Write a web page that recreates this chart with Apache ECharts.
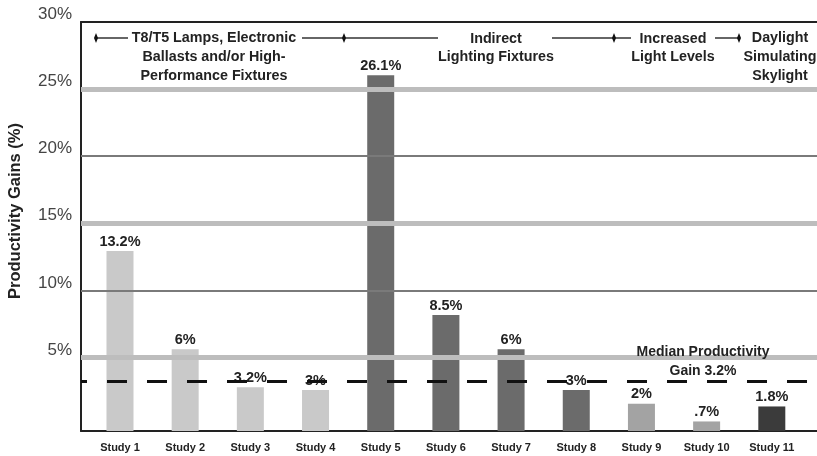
<!DOCTYPE html>
<html>
<head>
<meta charset="utf-8">
<script src="https://cdn.jsdelivr.net/npm/echarts@6.0.0/dist/echarts.min.js"></script>
<style>
  html, body { margin: 0; padding: 0; background: #fff; }
  #chart { width: 817px; height: 456px; }
</style>
</head>
<body>
<div id="chart"></div>
<script>
const studies = ['Study 1', 'Study 2', 'Study 3', 'Study 4', 'Study 5', 'Study 6',
  'Study 7', 'Study 8', 'Study 9', 'Study 10', 'Study 11'];
const gains = [13.2, 6, 3.2, 3, 26.1, 8.5, 6, 3, 2, 0.7, 1.8];
const studyGroup = [0, 0, 0, 0, 1, 1, 1, 1, 2, 2, 3];
const groupNames = [
  'T8/T5 Lamps, Electronic\nBallasts and/or High-\nPerformance Fixtures',
  'Indirect\nLighting Fixtures',
  'Increased\nLight Levels',
  'Daylight\nSimulating\nSkylight'
];
const yTicks = [5, 10, 15, 20, 25, 30];
const medianGain = 3.2;

const groupColors = ['#c9c9c9', '#6b6b6b', '#a3a3a3', '#3b3b3b'];
const boldFont = { fontFamily: 'Liberation Sans', fontWeight: 'bold', fill: '#222' };
const frameLine = { show: true, onZero: false, lineStyle: { color: '#222', width: 2 } };

const chart = echarts.init(document.getElementById('chart'));

// gridlines: 5/15/25 are the wide light ones, 10/20 thin dark ones
const gridLines = yTicks.filter(v => v < 30).map(v => ({
  yAxis: v,
  lineStyle: v % 10 === 5
    ? { color: '#bdbdbd', width: 5, type: 'solid' }
    : { color: '#7a7a7a', width: 2, type: 'solid' }
}));

// group captions along the top, with the little bracket lines
const captions = [
  { x: 214, y: 57, text: groupNames[0] },
  { x: 496, y: 48, text: groupNames[1] },
  { x: 673, y: 48, text: groupNames[2] },
  { x: 780, y: 57, text: groupNames[3] }
];
const brackets = [[96, 128], [302, 438], [552, 631], [715, 740]];
const ticksAt = [96, 344, 614, 739];

const graphics = [];
captions.forEach(c => graphics.push({
  type: 'text', x: c.x, y: c.y, z: 10,
  style: Object.assign({ text: c.text, fontSize: 14.3, lineHeight: 18.7,
    textAlign: 'center', textVerticalAlign: 'middle' }, boldFont)
}));
brackets.forEach(b => graphics.push({
  type: 'line', z: 10,
  shape: { x1: b[0], y1: 38, x2: b[1], y2: 38 },
  style: { stroke: '#333', lineWidth: 1.5 }
}));
ticksAt.forEach(x => graphics.push({
  type: 'polygon', z: 10,
  shape: { points: [[x, 33], [x + 2, 38], [x, 43], [x - 2, 38]] },
  style: { fill: '#111' }
}));
graphics.push({
  type: 'text', x: 703, y: 362, z: 10,
  style: Object.assign({ text: 'Median Productivity\nGain ' + medianGain + '%',
    fontSize: 14, lineHeight: 19, textAlign: 'center', textVerticalAlign: 'middle' }, boldFont)
});
graphics.push({
  type: 'text', x: 15, y: 211, rotation: Math.PI / 2, z: 10,
  style: Object.assign({ text: 'Productivity Gains (%)', fontSize: 16.5,
    textAlign: 'center', textVerticalAlign: 'middle' }, boldFont)
});

const option = {
  animation: false,
  backgroundColor: '#fff',
  grid: [
    { left: 81, right: 0, top: 22, bottom: 25 },
    { left: 87.4, right: 12.6, top: 22, bottom: 25 }
  ],
  xAxis: [
    // bottom and top frame lines
    { gridIndex: 0, type: 'value', min: 0, max: 1, position: 'bottom',
      axisLine: frameLine, axisTick: { show: false }, axisLabel: { show: false },
      splitLine: { show: false } },
    { gridIndex: 0, type: 'value', min: 0, max: 1, position: 'top',
      axisLine: frameLine, axisTick: { show: false }, axisLabel: { show: false },
      splitLine: { show: false } },
    { gridIndex: 1, type: 'category', data: studies,
      axisLine: { show: false }, axisTick: { show: false },
      axisLabel: { interval: 0, margin: 11, fontFamily: 'Liberation Sans',
        fontWeight: 'bold', fontSize: 11, color: '#222' } }
  ],
  yAxis: [
    { gridIndex: 0, type: 'value', min: -0.48, max: 30,
      axisLine: frameLine, axisTick: { show: false }, splitLine: { show: false },
      axisLabel: { customValues: yTicks, formatter: '{value}%', margin: 9,
        fontFamily: 'Liberation Sans', fontSize: 17, color: '#444',
        verticalAlign: 'bottom', lineHeight: 15 } },
    { gridIndex: 1, type: 'value', min: 0, max: 30, show: false }
  ],
  series: [
    {
      type: 'line', xAxisIndex: 0, yAxisIndex: 0, data: [], z: 1, silent: true,
      markLine: {
        symbol: 'none', silent: true, label: { show: false },
        data: gridLines.concat([{
          yAxis: medianGain,
          lineStyle: { color: '#111', width: 3, type: [20, 20], dashOffset: 14 }
        }])
      }
    },
    {
      type: 'bar', xAxisIndex: 2, yAxisIndex: 1, barWidth: 27, z: 3,
      data: gains.map((v, i) => ({
        value: v, itemStyle: { color: groupColors[studyGroup[i]] }
      })),
      label: {
        show: true, position: 'top', distance: 2,
        fontFamily: 'Liberation Sans', fontWeight: 'bold', fontSize: 14.5, color: '#222',
        formatter: p => String(p.value).replace(/^0\./, '.') + '%'
      }
    }
  ],
  graphic: graphics
};

chart.setOption(option);
</script>
</body>
</html>
